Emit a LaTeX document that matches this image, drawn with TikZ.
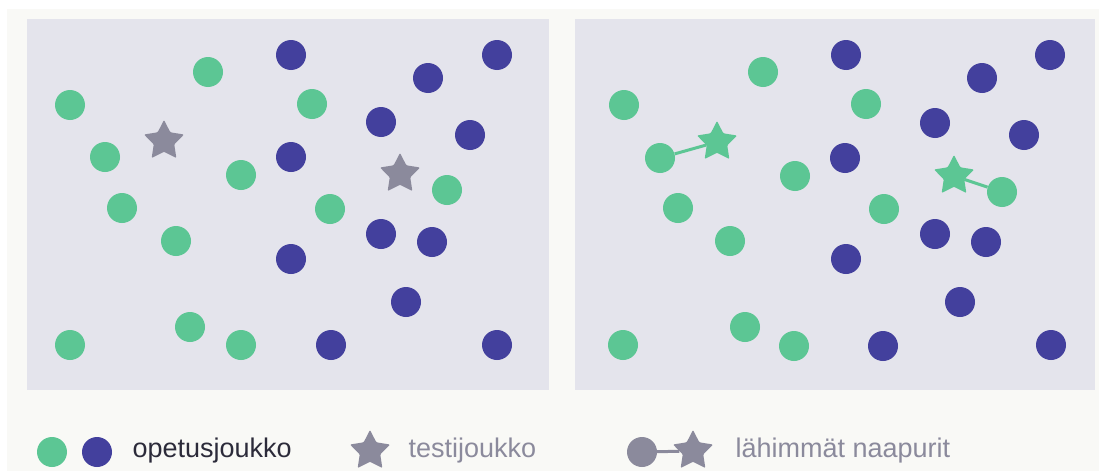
\documentclass[tikz,border=0pt]{standalone}
\usepackage{fontspec}
\setmainfont{Liberation Sans}
\usetikzlibrary{shapes.geometric}
\definecolor{knnGreen}{HTML}{5CC694}
\definecolor{knnBlue}{HTML}{43409D}
\definecolor{knnGray}{HTML}{8B8A9C}
\definecolor{knnPanel}{HTML}{E4E4EC}
\definecolor{knnPaper}{HTML}{F9F9F6}
\definecolor{knnInk}{HTML}{2C2B3A}
\tikzset{
  knn panel/.style={fill=knnPanel, draw=none},
  knn dot/.style={circle, minimum size=30pt, inner sep=0pt},
  knn green/.style={knn dot, fill=knnGreen},
  knn blue/.style={knn dot, fill=knnBlue},
  knn star/.style={star, star points=5, star point ratio=1.95, minimum size=42pt, inner sep=0pt, rounded corners=1pt},
  knn link/.style={line width=3pt},
  knn label/.style={font=\fontsize{27}{29}\selectfont, anchor=base west},
}

\begin{document}
\begin{tikzpicture}[x=1pt,y=-1pt]
  \fill[white] (0,0) rectangle (1099,471);
  \useasboundingbox (0,0) rectangle (1099,471);
  \fill[knnPaper] (7,9) rectangle (1099,471);
  \fill[knn panel] (27,19) rectangle (549,390);
  \fill[knn panel] (575,19) rectangle (1095,390);

  % training points, left panel
  \foreach \x/\y [count=\i] in {208/72,70/105,312/104,105/157,241/175,122/208,
      330/209,447/190,176/241,190/327,70/345,241/345}
    \node[knn green] (lg\i) at (\x,\y) {};
  \foreach \x/\y [count=\i] in {291/55,497/55,428/78,381/122,470/135,291/157,
      381/234,432/242,291/259,406/302,331/345,497/345}
    \node[knn blue] (lb\i) at (\x,\y) {};
  % test points
  \node[knn star, fill=knnGray] (ls1) at (164,141) {};
  \node[knn star, fill=knnGray] (ls2) at (400,174) {};

  % same points, right panel
  \foreach \x/\y [count=\i] in {763/72,624/105,866/104,660/158,795/176,678/208,
      884/209,1002/192,730/241,745/327,623/345,794/346}
    \node[knn green] (rg\i) at (\x,\y) {};
  \foreach \x/\y [count=\i] in {846/55,1050/55,982/78,935/123,1024/135,845/158,
      935/234,986/242,846/259,960/302,883/346,1051/345}
    \node[knn blue] (rb\i) at (\x,\y) {};
  \node[knn star, fill=knnGreen] (rs1) at (717,142) {};
  \node[knn star, fill=knnGreen] (rs2) at (954,176) {};
  \draw[knn link, knnGreen] (rs1) -- (rg4);
  \draw[knn link, knnGreen] (rs2) -- (rg8);

  % legend
  \node[knn green] (kg) at (52,452) {};
  \node[knn blue] (kb) at (97,452) {};
  \node[knn label, text=knnInk] (kt1) at (129,457) {opetusjoukko};
  \node[knn star, fill=knnGray] (ks) at (370,451) {};
  \node[knn label, text=knnGray] (kt2) at (405,457) {testijoukko};
  \node[knn dot, fill=knnGray] (kd) at (642,452) {};
  \node[knn star, fill=knnGray] (kn) at (693,451) {};
  \draw[knn link, knnGray] (kd) -- (kn);
  \node[knn label, text=knnGray] (kt3) at (732,457) {lähimmät naapurit};
\end{tikzpicture}
\end{document}
